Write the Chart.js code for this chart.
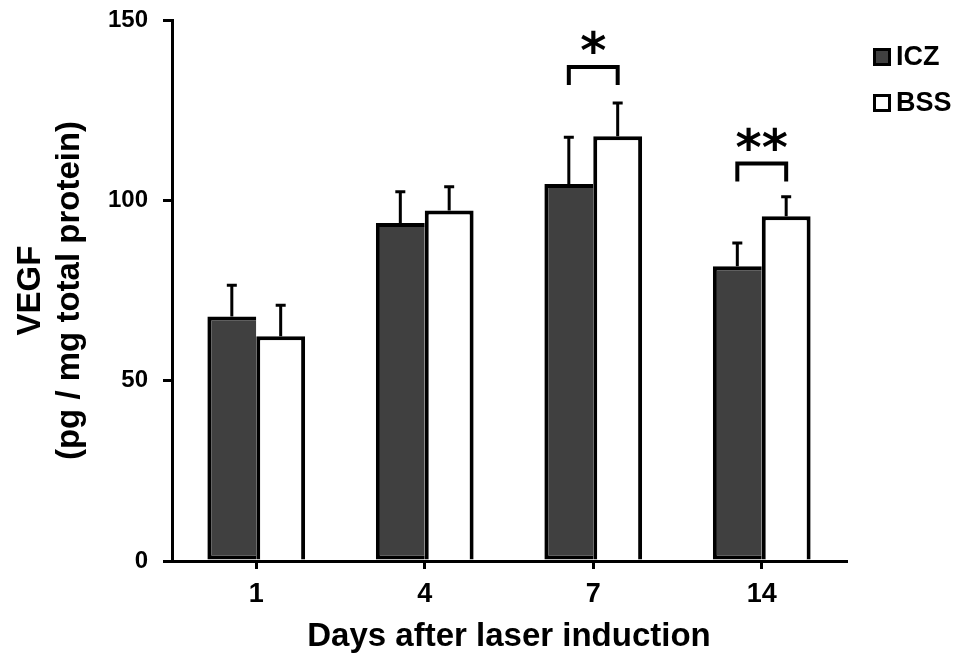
<!DOCTYPE html>
<html>
<head>
<meta charset="utf-8">
<title>VEGF after laser induction</title>
<script src="https://cdn.jsdelivr.net/npm/chart.js@4/dist/chart.umd.min.js"></script>
<style>
  html, body { margin: 0; padding: 0; background: #fff; }
  #wrap { width: 968px; height: 657px; }
</style>
</head>
<body>
<div id="wrap"><canvas id="vegfChart" width="968" height="657"></canvas></div>
<script>
const days = ['1', '4', '7', '14'];
const iczMean = [67.8, 93.7, 104.5, 81.7];
const iczErr = [9.1, 9.1, 13.4, 6.9];
const bssMean = [62.3, 97.2, 117.8, 95.6];
const bssErr = [9.0, 7.0, 9.6, 5.8];
const yTicks = [0, 50, 100, 150];

// significance brackets (day index, label, bracket top value, leg length)
const sigDay = [2, 3];
const sigText = ['*', '**'];
const sigTop = [137, 110.2];
const sigLeg = [5, 5];

const FONT = '"Liberation Sans", Arial, sans-serif';
Chart.defaults.font.family = FONT;
Chart.defaults.color = '#000';

// upward-only error bars
const errorBars = {
  id: 'errorBars',
  afterDatasetsDraw(chart) {
    const ctx = chart.ctx;
    const y = chart.scales.y;
    ctx.save();
    ctx.strokeStyle = '#000';
    ctx.lineWidth = 3;
    chart.data.datasets.forEach((ds, d) => {
      chart.getDatasetMeta(d).data.forEach((bar, i) => {
        const top = y.getPixelForValue(ds.data[i] + ds.errors[i]);
        ctx.beginPath();
        ctx.moveTo(bar.x, bar.y);
        ctx.lineTo(bar.x, top);
        ctx.moveTo(bar.x - 5, top + 1.5);
        ctx.lineTo(bar.x + 5, top + 1.5);
        ctx.stroke();
      });
    });
    ctx.restore();
  }
};

const sigMarks = {
  id: 'sigMarks',
  afterDatasetsDraw(chart) {
    const ctx = chart.ctx;
    const y = chart.scales.y;
    const m0 = chart.getDatasetMeta(0), m1 = chart.getDatasetMeta(1);
    ctx.save();
    ctx.strokeStyle = '#000';
    ctx.fillStyle = '#000';
    ctx.lineWidth = 4;
    ctx.lineJoin = 'miter';
    ctx.font = 'bold 50px "DejaVu Sans", sans-serif';
    ctx.textAlign = 'center';
    ctx.textBaseline = 'alphabetic';
    sigDay.forEach((day, k) => {
      const x1 = m0.data[day].x, x2 = m1.data[day].x;
      const yt = y.getPixelForValue(sigTop[k]);
      const yl = y.getPixelForValue(sigTop[k] - sigLeg[k]);
      ctx.beginPath();
      ctx.moveTo(x1, yl);
      ctx.lineTo(x1, yt);
      ctx.lineTo(x2, yt);
      ctx.lineTo(x2, yl);
      ctx.stroke();
      const m = ctx.measureText(sigText[k]);
      const cy = yt - 25;
      ctx.fillText(sigText[k], (x1 + x2) / 2, cy + (m.actualBoundingBoxAscent - m.actualBoundingBoxDescent) / 2);
    });
    ctx.restore();
  }
};

const sideLegend = {
  id: 'sideLegend',
  afterDraw(chart) {
    const ctx = chart.ctx;
    const x0 = chart.chartArea.right + 27;
    ctx.save();
    ctx.font = 'bold 27px ' + FONT;
    ctx.textAlign = 'left';
    ctx.textBaseline = 'middle';
    chart.data.datasets.forEach((ds, i) => {
      const cy = 57 + i * 46;
      ctx.fillStyle = ds.backgroundColor;
      ctx.fillRect(x0, cy - 9, 18, 18);
      ctx.lineWidth = 3;
      ctx.strokeStyle = '#000';
      ctx.strokeRect(x0 + 1.5, cy - 7.5, 15, 15);
      ctx.fillStyle = '#000';
      ctx.fillText(ds.label, x0 + 23, cy + 1);
    });
    ctx.restore();
  }
};

new Chart(document.getElementById('vegfChart'), {
  type: 'bar',
  data: {
    labels: days,
    datasets: [
      {
        label: 'ICZ',
        data: iczMean,
        errors: iczErr,
        backgroundColor: '#404040',
        borderColor: '#000',
        borderWidth: 4,
        borderSkipped: 'right',
      },
      {
        label: 'BSS',
        data: bssMean,
        errors: bssErr,
        backgroundColor: '#ffffff',
        borderColor: '#000',
        borderWidth: 4,
      },
    ],
  },
  options: {
    responsive: false,
    animation: false,
    devicePixelRatio: 1,
    categoryPercentage: 0.58,
    barPercentage: 1,
    layout: { padding: { top: 20, right: 122, left: 0, bottom: 0 } },
    plugins: { legend: { display: false }, tooltip: { enabled: false } },
    scales: {
      x: {
        afterFit: s => { s.height = 96; s.paddingLeft = 0; s.paddingRight = 0; },
        border: { color: '#000', width: 3 },
        grid: { drawOnChartArea: false, offset: false, color: '#000', lineWidth: 3, tickLength: 8 },
        ticks: { padding: 9, font: { size: 27, weight: 'bold' }, color: '#000' },
        title: { display: true, text: 'Days after laser induction', font: { size: 33, weight: 'bold' }, padding: 0, color: '#000' },
      },
      y: {
        min: 0,
        max: 150,
        afterBuildTicks: s => { s.ticks = yTicks.map(v => ({ value: v })); },
        afterFit: s => { s.width = 172; s.paddingTop = 0; s.paddingBottom = 0; },
        border: { color: '#000', width: 3 },
        grid: { drawOnChartArea: false, color: '#000', lineWidth: 3, tickLength: 9 },
        ticks: { padding: 15, font: { size: 24, weight: 'bold' }, color: '#000' },
        title: { display: true, text: ['VEGF', '(pg / mg total protein)'], font: { size: 33, weight: 'bold' }, padding: { top: 11, bottom: 0 }, color: '#000' },
      },
    },
  },
  plugins: [errorBars, sigMarks, sideLegend],
});
</script>
</body>
</html>
